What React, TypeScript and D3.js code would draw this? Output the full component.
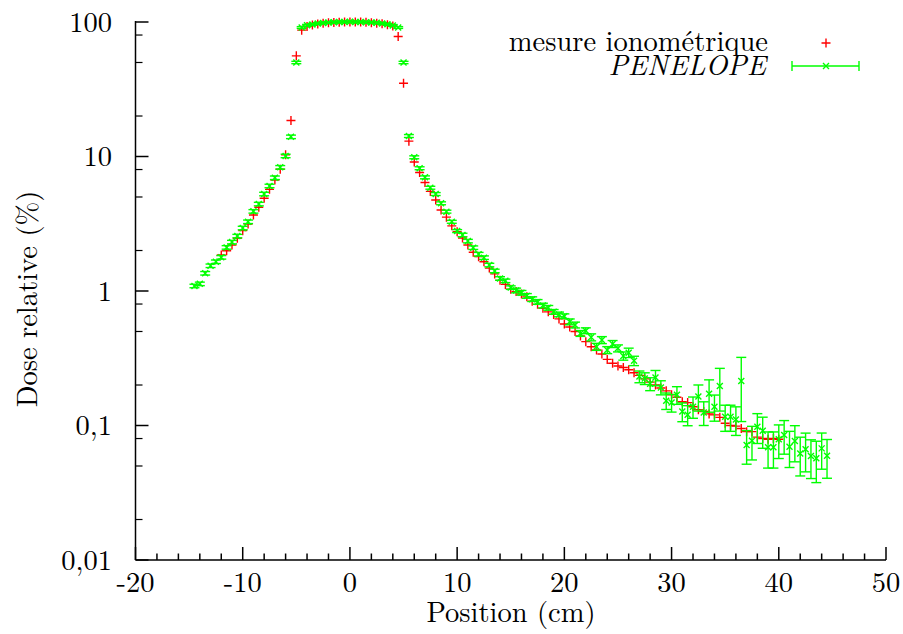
import React from "react";
import * as d3 from "d3";

// Mesure ionométrique: [position cm, dose %]
const mesure: [number, number][] = [
  [-12, 1.85], [-11.5, 1.99], [-11, 2.2], [-10.5, 2.47], [-10, 2.81], [-9.5, 3.15],
  [-9, 3.67], [-8.5, 4.19], [-8, 4.89], [-7.5, 5.7], [-7, 6.69], [-6.5, 8.04],
  [-6, 10.3], [-5.5, 18.5], [-5, 56], [-4.5, 87], [-4, 92.5], [-3.5, 95],
  [-3, 96.5], [-2.5, 97.8], [-2, 98.6], [-1.5, 99.2], [-1, 99.6], [-0.5, 99.9],
  [0, 100], [0.5, 100], [1, 99.8], [1.5, 99.4], [2, 98.8], [2.5, 98],
  [3, 97], [3.5, 95.5], [4, 93.5], [4.5, 78], [5, 35], [5.5, 13],
  [6, 9.1], [6.5, 7.6], [7, 6.4], [7.5, 5.5], [8, 4.75], [8.5, 4.0],
  [9, 3.54], [9.5, 3.05], [10, 2.76], [10.5, 2.48], [11, 2.2], [11.5, 1.94],
  [12, 1.8], [12.5, 1.65], [13, 1.48], [13.5, 1.34], [14, 1.2], [14.5, 1.12],
  [15, 1.03], [15.5, 0.99], [16, 0.95], [16.5, 0.905], [17, 0.84], [17.5, 0.796],
  [18, 0.743], [18.5, 0.7], [19, 0.67], [19.5, 0.62], [20, 0.569], [20.5, 0.54],
  [21, 0.5], [21.5, 0.463], [22, 0.42], [22.5, 0.385], [23, 0.364], [23.5, 0.34],
  [24, 0.31], [24.5, 0.29], [25, 0.277], [25.5, 0.27], [26, 0.26], [26.5, 0.247],
  [27, 0.236], [27.5, 0.222], [28, 0.21], [28.5, 0.2], [29, 0.19], [29.5, 0.181],
  [30, 0.169], [30.5, 0.162], [31, 0.15], [31.5, 0.148], [32, 0.138], [32.5, 0.131],
  [33, 0.127], [33.5, 0.122], [34, 0.12], [34.5, 0.115], [35, 0.104], [35.5, 0.1],
  [36, 0.099], [36.5, 0.095], [37, 0.09], [37.5, 0.09], [38, 0.082], [38.5, 0.08],
  [39, 0.079], [39.5, 0.08], [40, 0.079],
];

// PENELOPE: [position cm, dose %, relative error %]
const penelope: [number, number, number][] = [
  [-14.5, 1.09, 3], [-14, 1.13, 3], [-13.5, 1.355, 3], [-13, 1.54, 3], [-12.5, 1.65, 3],
  [-12, 1.78, 3], [-11.5, 2.11, 3], [-11, 2.31, 3], [-10.5, 2.56, 3], [-10, 2.94, 3],
  [-9.5, 3.27, 3], [-9, 3.91, 3], [-8.5, 4.43, 3], [-8, 5.26, 3], [-7.5, 6.04, 3],
  [-7, 6.95, 3], [-6.5, 8.31, 3], [-6, 10.1, 3], [-5.5, 14.0, 3], [-5, 50, 2],
  [-4.5, 91, 1.5], [-4, 94.5, 1.5], [-3.5, 96, 1.5], [-3, 97.5, 1.5], [-2.5, 98.5, 1.5],
  [-2, 99.2, 1.5], [-1.5, 99.6, 1.5], [-1, 100, 1.5], [-0.5, 100.2, 1.5], [0, 100.3, 1.5],
  [0.5, 100.2, 1.5], [1, 100, 1.5], [1.5, 99.7, 1.5], [2, 99.3, 1.5], [2.5, 98.6, 1.5],
  [3, 97.6, 1.5], [3.5, 96.2, 1.5], [4, 94.3, 1.5], [4.5, 91, 1.5], [5, 50, 2],
  [5.5, 14.2, 2.5], [6, 9.87, 2.5], [6.5, 8.18, 2.5], [7, 7.0, 2.5], [7.5, 5.86, 2.5],
  [8, 5.26, 2.5], [8.5, 4.49, 2.5], [9, 3.89, 2.5], [9.5, 3.27, 2.5], [10, 2.79, 2.5],
  [10.5, 2.61, 3], [11, 2.35, 3], [11.5, 2.1, 3], [12, 1.88, 3], [12.5, 1.77, 3],
  [13, 1.56, 3], [13.5, 1.41, 3], [14, 1.24, 3], [14.5, 1.19, 3], [15, 1.06, 3],
  [15.5, 1.01, 4], [16, 0.97, 4], [16.5, 0.92, 4], [17, 0.87, 4], [17.5, 0.83, 4],
  [18, 0.78, 4], [18.5, 0.75, 4], [19, 0.7, 4], [19.5, 0.67, 4], [20, 0.65, 4],
  [20.5, 0.59, 5], [21, 0.559, 5], [21.5, 0.484, 5], [22, 0.507, 5], [22.5, 0.453, 6],
  [23, 0.385, 6], [23.5, 0.432, 6], [24, 0.364, 6], [24.5, 0.404, 6], [25, 0.375, 6],
  [25.5, 0.329, 7], [26, 0.348, 8], [26.5, 0.303, 8], [27, 0.231, 10], [27.5, 0.224, 10],
  [28, 0.204, 11], [28.5, 0.227, 13], [29, 0.192, 12], [29.5, 0.153, 14], [30, 0.148, 15],
  [30.5, 0.169, 15], [31, 0.127, 16], [31.5, 0.12, 17], [32, 0.138, 18], [32.5, 0.164, 22],
  [33, 0.125, 20], [33.5, 0.172, 27], [34, 0.138, 22], [34.5, 0.197, 35], [35, 0.116, 22],
  [35.5, 0.116, 22], [36, 0.111, 24], [36.5, 0.214, 50], [37, 0.0716, 28], [37.5, 0.077, 28],
  [38, 0.098, 25], [38.5, 0.0915, 26], [39, 0.0689, 30], [39.5, 0.0689, 30], [40, 0.0789, 28],
  [40.5, 0.085, 28], [41, 0.0696, 30], [41.5, 0.0767, 30], [42, 0.062, 32], [42.5, 0.0665, 32],
  [43, 0.0593, 32], [43.5, 0.057, 34], [44, 0.0676, 30], [44.5, 0.0596, 32],
];

const xTicks = [-20, -10, 0, 10, 20, 30, 40, 50];
const yTicks = [100, 10, 1, 0.1, 0.01];
const yTickLabels = ["100", "10", "1", "0,1", "0,01"];
const yMinorFactors = [2, 5, 8];

const W = 903;
const H = 634;
const FONT = '"Latin Modern Roman"';
const RED = "#ff0000";
const GREEN = "#00ff00";
const FS = 28.5;

export default function App() {
  const x = d3.scaleLinear().domain([-20, 50]).range([135.5, 886]);
  const y = d3.scaleLog().domain([0.01, 100]).range([560, 22]);

  const xMinor = d3.range(-20, 50.001, 2).filter((v) => !xTicks.includes(Math.round(v)));
  const yMinor: number[] = [];
  [0.01, 0.1, 1, 10].forEach((d) => yMinorFactors.forEach((f) => yMinor.push(d * f)));

  const plus = (cx: number, cy: number, s = 4.5) =>
    `M${cx - s},${cy}H${cx + s}M${cx},${cy - s}V${cy + s}`;
  const cross = (cx: number, cy: number, s = 3) =>
    `M${cx - s},${cy - s}L${cx + s},${cy + s}M${cx - s},${cy + s}L${cx + s},${cy - s}`;

  const cap = 5;
  const ts: React.CSSProperties = { fontFamily: FONT, fontSize: FS };

  return (
    <svg
      width={W}
      height={H}
      style={{ position: "absolute", left: 0, top: 0, background: "#fff" }}
    >
      <rect x={0} y={0} width={W} height={H} fill="#fff" />

      {/* axes */}
      <g stroke="#000" strokeWidth={1.5} fill="none">
        <line x1={x(-20)} y1={y(100) - 1} x2={x(-20)} y2={y(0.01)} />
        <line x1={x(-20)} y1={y(0.01)} x2={x(50)} y2={y(0.01)} />
        {xTicks.map((t) => (
          <line key={"xt" + t} x1={x(t)} x2={x(t)} y1={y(0.01)} y2={y(0.01) - 13} />
        ))}
        {xMinor.map((t) => (
          <line key={"xm" + t} x1={x(t)} x2={x(t)} y1={y(0.01)} y2={y(0.01) - 6.5} />
        ))}
        {yTicks.map((t) => (
          <line key={"yt" + t} x1={x(-20)} x2={x(-20) + 13} y1={y(t)} y2={y(t)} />
        ))}
        {yMinor.map((t) => (
          <line key={"ym" + t} x1={x(-20)} x2={x(-20) + 7} y1={y(t)} y2={y(t)} strokeWidth={1.2} />
        ))}
      </g>

      {/* tick labels */}
      <g fill="#000">
        {xTicks.map((t) => (
          <text key={"xl" + t} x={x(t)} y={592} textAnchor="middle" style={ts}>
            {t}
          </text>
        ))}
        {yTicks.map((t, i) => (
          <text key={"yl" + t} x={112} y={y(t) + 9.5} textAnchor="end" style={ts}>
            {yTickLabels[i]}
          </text>
        ))}
      </g>

      {/* axis titles */}
      <text x={511} y={622} textAnchor="middle" style={ts}>
        Position (cm)
      </text>
      <text transform={`translate(37,299) rotate(-90)`} textAnchor="middle" style={ts}>
        Dose relative (%)
      </text>

      {/* mesure ionométrique */}
      <g stroke={RED} strokeWidth={1.4} fill="none">
        {mesure.map(([px, v], i) => (
          <path key={"m" + i} d={plus(x(px), y(v))} />
        ))}
      </g>

      {/* PENELOPE with error bars */}
      <g stroke={GREEN} strokeWidth={1.4} fill="none">
        {penelope.map(([px, v, e], i) => {
          const cx = x(px);
          const lo = y(v * (1 - e / 100));
          const hi = y(v * (1 + e / 100));
          return (
            <g key={"p" + i}>
              <line x1={cx} x2={cx} y1={lo} y2={hi} />
              <line x1={cx - cap} x2={cx + cap} y1={lo} y2={lo} />
              <line x1={cx - cap} x2={cx + cap} y1={hi} y2={hi} />
              <path d={cross(cx, y(v))} />
            </g>
          );
        })}
      </g>

      {/* legend */}
      <text x={768} y={51} textAnchor="end" style={ts}>
        mesure ionométrique
      </text>
      <text x={766} y={75} textAnchor="end" style={{ ...ts, fontStyle: "italic" }}>
        PENELOPE
      </text>
      <path d={plus(826, 43)} stroke={RED} strokeWidth={1.4} fill="none" />
      <g stroke={GREEN} strokeWidth={1.4} fill="none">
        <line x1={792} x2={859} y1={66} y2={66} />
        <line x1={792} x2={792} y1={61} y2={71} />
        <line x1={859} x2={859} y1={61} y2={71} />
        <path d={cross(826, 66)} />
      </g>
    </svg>
  );
}
